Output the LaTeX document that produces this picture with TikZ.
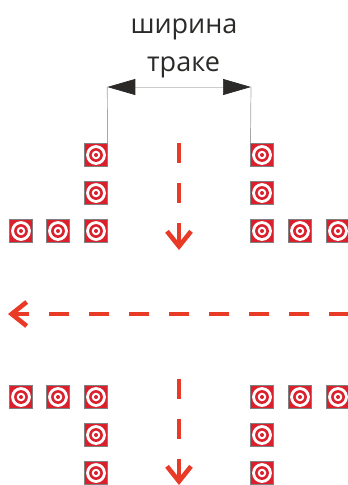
\documentclass[tikz,border=0pt]{standalone}
\usepackage{fontspec}
\setmainfont{Open Sans}
\usetikzlibrary{arrows.meta}
\definecolor{targetred}{RGB}{218,32,44}
\definecolor{dashred}{RGB}{232,58,38}
\definecolor{inkdark}{RGB}{43,42,41}
\tikzset{
  target/.style={rectangle,draw=gray,line width=0.6pt,fill=targetred,inner sep=0pt,minimum size=22.5pt,
    path picture={
      \fill [white] (path picture bounding box.center) circle (9.9pt);
      \fill [targetred] (path picture bounding box.center) circle (6.9pt);
      \fill [white] (path picture bounding box.center) circle (4.3pt);
      \fill [targetred] (path picture bounding box.center) circle (2pt);
    }},
  label text/.style={inner sep=0pt,text=inkdark,font=\fontsize{27}{27}\selectfont},
  dash arrow/.style={dashred,line width=4.6pt,dash pattern=on 20pt off 20pt,-{Straight Barb[length=15pt,width=24pt,line width=4.6pt]}},
  dim line/.style={gray!70,line width=0.7pt}
}
\begin{document}
\begin{tikzpicture}[x=1pt,y=-1pt]
        \useasboundingbox (0,0) rectangle (348,485);

        \node [label text,anchor=base] (width) at (184,33) {ширина};
        \node [label text,anchor=base] (track) at (183.5,71) {траке};

        \node [target] (ul1) at (96,155) {};
        \node [target] (ul2) at (96,193) {};
        \node [target] (ul3) at (96,231) {};
        \node [target] (ul4) at (58,231) {};
        \node [target] (ul5) at (21,231) {};

        \node [target] (ur1) at (262,155) {};
        \node [target] (ur2) at (262,193) {};
        \node [target] (ur3) at (262,231) {};
        \node [target] (ur4) at (300,231) {};
        \node [target] (ur5) at (338,231) {};

        \node [target] (ll1) at (96,473) {};
        \node [target] (ll2) at (96,435) {};
        \node [target] (ll3) at (96,397) {};
        \node [target] (ll4) at (58,397) {};
        \node [target] (ll5) at (21,397) {};

        \node [target] (lr1) at (262,473) {};
        \node [target] (lr2) at (262,435) {};
        \node [target] (lr3) at (262,397) {};
        \node [target] (lr4) at (300,397) {};
        \node [target] (lr5) at (338,397) {};

        \coordinate (dimleft) at (107.3,87);
        \coordinate (dimright) at (251,87);
        \draw [dim line] (ul1.north east) -- (dimleft);
        \draw [dim line] (ur1.north west) -- (dimright);
        \draw [gray!40,line width=0.7pt,{Triangle[length=28pt,width=16pt,color=inkdark]}-{Triangle[length=28pt,width=16pt,color=inkdark]}] (dimleft) -- (dimright);

        \coordinate (topstart) at (179,143);
        \coordinate (topend) at (179,250);
        \coordinate (crossstart) at (349,314);
        \coordinate (crossend) at (8,314);
        \coordinate (botstart) at (179,379);
        \coordinate (botend) at (179,485);
        \draw [dash arrow] (topstart) -- (topend);
        \draw [dash arrow] (crossstart) -- (crossend);
        \draw [dash arrow] (botstart) -- (botend);
      \end{tikzpicture}
\end{document}
